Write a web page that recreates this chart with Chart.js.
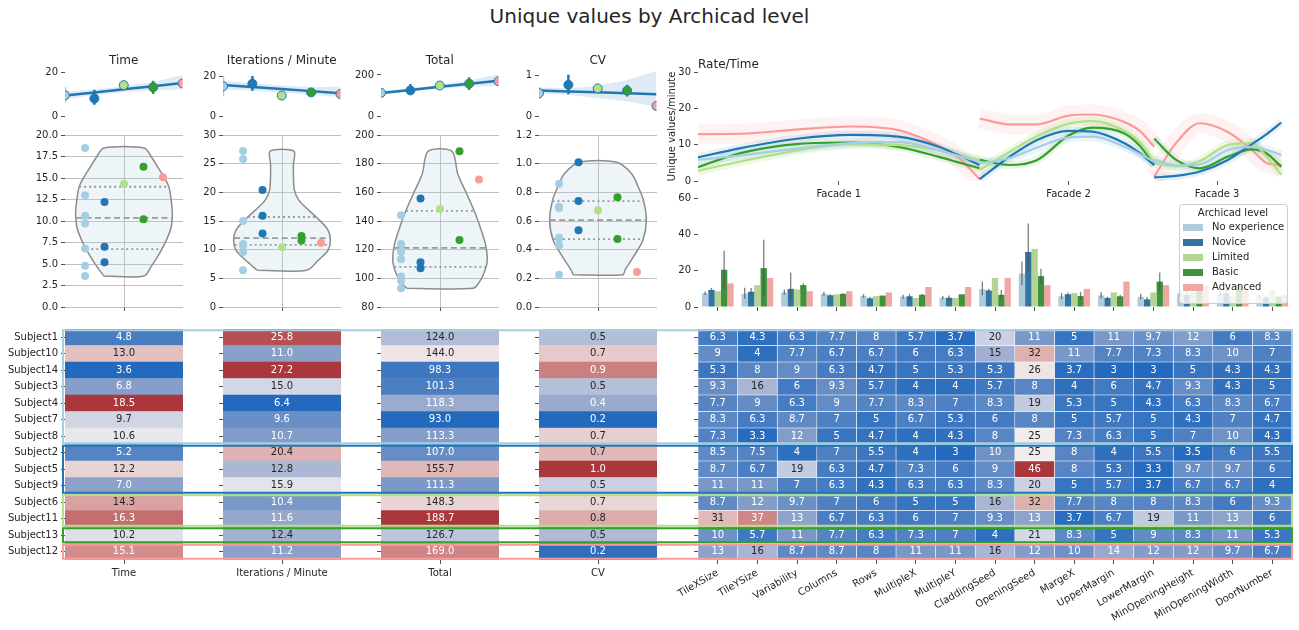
<!DOCTYPE html>
<html>
<head>
<meta charset="utf-8">
<title>Unique values by Archicad level</title>
<script src="https://cdn.jsdelivr.net/npm/chart.js@4.4.1/dist/chart.umd.min.js"></script>
<style>
  html, body { margin: 0; padding: 0; background: #fff; }
  body { width: 1299px; height: 630px; position: relative; overflow: hidden; font-family: "DejaVu Sans", sans-serif; color: #262626; }
  canvas { position: absolute; }
  #suptitle { position: absolute; left: 0; top: 4px; width: 1299px; text-align: center; font-size: 20px; line-height: 24px; }
</style>
</head>
<body>
<div id="suptitle">Unique values by Archicad level</div>
<script>
// ---- data -----------------------------------------------------------
const groups = ['No experience', 'Novice', 'Limited', 'Basic', 'Advanced'];
const groupColors = ['#a6cee3', '#1f78b4', '#b2df8a', '#33a02c', '#fb9a99'];
const barColors = ['#aecbdb', '#3275a1', '#b3d495', '#40913b', '#efa6a5'];

const subjects = ['Subject1', 'Subject10', 'Subject14', 'Subject3', 'Subject4', 'Subject7', 'Subject8',
  'Subject2', 'Subject5', 'Subject9', 'Subject6', 'Subject11', 'Subject13', 'Subject12'];
const boxGroup = [0, 0, 0, 0, 0, 0, 0, 1, 1, 1, 2, 2, 3, 4];  // outline boxes in the heatmaps
const dotGroup = [0, 0, 0, 0, 0, 0, 0, 1, 1, 1, 2, 3, 3, 4];  // dot colours in the violins

const metrics = ['Time', 'Iterations / Minute', 'Total', 'CV'];
const timeVals = [4.8, 13.0, 3.6, 6.8, 18.5, 9.7, 10.6, 5.2, 12.2, 7.0, 14.3, 16.3, 10.2, 15.1];
const iterVals = [25.8, 11.0, 27.2, 15.0, 6.4, 9.6, 10.7, 20.4, 12.8, 15.9, 10.4, 11.6, 12.4, 11.2];
const totalVals = [124.0, 144.0, 98.3, 101.3, 118.3, 93.0, 113.3, 107.0, 155.7, 111.3, 148.3, 188.7, 126.7, 169.0];
const cvVals = [0.48, 0.70, 0.86, 0.485, 0.43, 0.225, 0.69, 0.74, 1.01, 0.535, 0.675, 0.765, 0.475, 0.245];

// regression strip on top (one value per level)
const timeMeans = [9.6, 8.1, 14.3, 13.3, 15.1];
const timeErrLo = [6.3, 5.2, null, 10.2, null];
const timeErrHi = [13.4, 12.2, null, 16.3, null];
const timeFit = [9.5, 10.9, 12.4, 13.8, 15.3];
const timeBandLo = [7.8, 9.6, 11.0, 12.0, 12.3];
const timeBandHi = [11.4, 12.3, 13.8, 15.8, 19.0];

const iterMeans = [15.1, 16.4, 10.4, 12.0, 11.2];
const iterErrLo = [10.1, 12.8, null, 11.6, null];
const iterErrHi = [20.4, 20.4, null, 12.4, null];
const iterFit = [15.8, 14.75, 13.7, 12.65, 11.6];
const iterBandLo = [13.6, 12.9, 11.9, 10.8, 9.6];
const iterBandHi = [18.0, 16.6, 15.5, 14.8, 14.9];

const totalMeans = [113.2, 124.7, 148.3, 157.7, 169.0];
const totalErrLo = [101, 107, null, 126.7, null];
const totalErrHi = [127.8, 155.7, null, 188.7, null];
const totalFit = [112, 127, 142, 157, 172];
const totalBandLo = [104, 119, 133, 143, 146];
const totalBandHi = [121, 136, 152, 173, 203];

const cvMeans = [0.557, 0.762, 0.675, 0.62, 0.245];
const cvErrLo = [0.42, 0.535, null, 0.475, null];
const cvErrHi = [0.71, 1.01, null, 0.765, null];
const cvFit = [0.625, 0.601, 0.578, 0.554, 0.53];
const cvBandLo = [0.55, 0.52, 0.44, 0.36, 0.22];
const cvBandHi = [0.70, 0.68, 0.74, 0.88, 1.10];

// violin outlines: level and half width
const timeViolinY = [3.6, 4.7, 6.2, 7.8, 9.3, 10.9, 12.4, 14.0, 15.1, 16.3, 17.5, 18.5];
const timeViolinW = [0.17, 0.23, 0.30, 0.36, 0.40, 0.41, 0.40, 0.38, 0.34, 0.285, 0.23, 0.17];
const iterViolinY = [6.4, 8.2, 9.9, 11.6, 13.4, 15.1, 16.9, 18.6, 20.4, 23.0, 25.0, 27.2];
const iterViolinW = [0.21, 0.31, 0.39, 0.41, 0.39, 0.32, 0.226, 0.144, 0.105, 0.097, 0.097, 0.10];
const totalViolinY = [93, 97, 103, 112, 122, 131, 145, 159, 173, 188.7];
const totalViolinW = [0.28, 0.33, 0.37, 0.40, 0.39, 0.36, 0.30, 0.226, 0.15, 0.10];
const cvViolinY = [0.225, 0.26, 0.35, 0.466, 0.606, 0.746, 0.84, 0.93, 1.01];
const cvViolinW = [0.21, 0.23, 0.30, 0.38, 0.41, 0.385, 0.34, 0.285, 0.16];
const timeQuart = [6.72, 10.37, 13.98];
const iterQuart = [10.83, 12.0, 15.7];
const totalQuart = [108, 121.3, 147.1];
const cvQuart = [0.473, 0.606, 0.739];

// Rate/Time curves, one x list per facade
const facadeLabels = ['Facade 1', 'Facade 2', 'Facade 3'];
const facadeTicks = [23.7, 62.4, 87.4];
const rateX1 = [0, 7, 17, 25.7, 33.7, 40.4, 43.7, 47.4];
const rateX2 = [47.4, 52.4, 57.1, 62.4, 66.4, 71.8, 74.5, 76.8];
const rateX3 = [76.8, 80.5, 84.5, 89.2, 93.2, 95.8, 98.2];
const rateNoExp = [[5.8, 7.0, 9.0, 10.4, 10.7, 8.5, 7.0, 5.3], [4.9, 6.3, 9.2, 12.0, 12.2, 9.4, 7.3, 5.3], [5.8, 4.3, 4.6, 8.5, 9.4, 8.5, 7.2]];
const rateNovice = [[6.5, 9.0, 11.7, 12.7, 12.2, 9.5, 7.2, 4.4], [0.5, 6.6, 11.3, 13.8, 13.6, 10.4, 7.5, 4.4], [1.0, 1.4, 2.6, 5.8, 10.1, 13.0, 16.1]];
const rateLimited = [[2.8, 5.3, 8.5, 10.1, 9.9, 8.5, 7.3, 5.8], [3.0, 8.0, 12.4, 15.8, 16.5, 13.8, 10.4, 5.3], [4.9, 4.0, 5.5, 9.9, 10.4, 6.5, 1.7]];
const rateBasic = [[3.8, 7.6, 10.2, 10.6, 9.4, 6.7, 5.2, 3.5], [5.8, 4.4, 5.8, 12.5, 14.7, 13.1, 9.5, 4.4], [11.7, 5.8, 3.5, 6.7, 8.7, 7.5, 3.9]];
const rateAdvanced = [[12.9, 13.0, 14.2, 15.0, 14.0, 9.8, 6.7, 0.5], [17.2, 15.6, 15.6, 18.0, 18.3, 16.2, 13.6, 9.4], [1.2, 10.5, 15.9, 13.5, 8.6, 4.9, 4.4]];

// parameter bars
const params = ['TileXSize', 'TileYSize', 'Variability', 'Columns', 'Rows', 'MultipleX', 'MultipleY', 'CladdingSeed',
  'OpeningSeed', 'MargeX', 'UpperMargin', 'LowerMargin', 'MinOpeningHeight', 'MinOpeningWidth', 'DoorNumber'];
const barNoExp = [7.6, 7.3, 8.0, 7.3, 6.1, 5.7, 5.1, 9.8, 18.4, 5.9, 6.4, 5.6, 7.5, 7.1, 5.8];
const barNovice = [9.4, 8.4, 10.0, 6.5, 4.8, 5.9, 5.1, 9.1, 30.3, 7.0, 5.0, 4.2, 6.6, 7.5, 5.2];
const barLimited = [8.7, 12, 9.7, 7, 6, 5, 5, 16, 32, 7.7, 8, 8, 8.3, 6, 9.3];
const barBasic = [20.5, 21.4, 12.0, 7.2, 6.3, 6.7, 7.0, 6.7, 17.0, 6.0, 5.9, 14.0, 9.7, 12.0, 5.7];
const barAdvanced = [13, 16, 8.7, 8.7, 8, 11, 11, 16, 12, 10, 14, 12, 12, 9.7, 6.7];
const errNoExpLo = [6.6, 4.6, 6.7, 6.2, 5.1, 4.6, 4.3, 6.5, 12.0, 4.4, 4.8, 4.2, 5.7, 5.5, 4.8];
const errNoExpHi = [8.6, 10.6, 9.6, 8.4, 7.1, 6.8, 6.0, 14.0, 25.0, 7.7, 8.2, 7.3, 9.4, 8.7, 6.9];
const errNoviceLo = [8.5, 6.9, 4.5, 6.3, 4.3, 4.0, 3.0, 8.3, 20.0, 5.0, 4.0, 3.3, 3.5, 6.0, 4.0];
const errNoviceHi = [10.5, 10.5, 19.0, 7.0, 5.5, 7.3, 6.3, 10.0, 46.0, 8.0, 5.7, 5.5, 9.7, 9.7, 6.0];
const errBasicLo = [10, 5.7, 11, 6.7, 6.3, 6.0, 7.0, 4.0, 13, 3.7, 5.0, 9.0, 8.3, 11, 5.3];
const errBasicHi = [31, 37, 13, 7.7, 6.3, 7.3, 7.0, 9.3, 21, 8.3, 6.7, 19, 11, 13, 6.0];

// parameter heatmap, one row per subject (same order as subjects)
const paramTable = [
  [6.3, 4.3, 6.3, 7.7, 8, 5.7, 3.7, 20, 11, 5, 11, 9.7, 12, 6, 8.3],
  [9, 4, 7.7, 6.7, 6.7, 6, 6.3, 15, 32, 11, 7.7, 7.3, 8.3, 10, 7],
  [5.3, 8, 9, 6.3, 4.7, 5, 5.3, 5.3, 26, 3.7, 3, 3, 5, 4.3, 4.3],
  [9.3, 16, 6, 9.3, 5.7, 4, 4, 5.7, 8, 4, 6, 4.7, 9.3, 4.3, 5],
  [7.7, 9, 6.3, 9, 7.7, 8.3, 7, 8.3, 19, 5.3, 5, 4.3, 6.3, 8.3, 6.7],
  [8.3, 6.3, 8.7, 7, 5, 6.7, 5.3, 6, 8, 5, 5.7, 5, 4.3, 7, 4.7],
  [7.3, 3.3, 12, 5, 4.7, 4, 4.3, 8, 25, 7.3, 6.3, 5, 7, 10, 4.3],
  [8.5, 7.5, 4, 7, 5.5, 4, 3, 10, 25, 8, 4, 5.5, 3.5, 6, 5.5],
  [8.7, 6.7, 19, 6.3, 4.7, 7.3, 6, 9, 46, 8, 5.3, 3.3, 9.7, 9.7, 6],
  [11, 11, 7, 6.3, 4.3, 6.3, 6.3, 8.3, 20, 5, 5.7, 3.7, 6.7, 6.7, 4],
  [8.7, 12, 9.7, 7, 6, 5, 5, 16, 32, 7.7, 8, 8, 8.3, 6, 9.3],
  [31, 37, 13, 6.7, 6.3, 6, 7, 9.3, 13, 3.7, 6.7, 19, 11, 13, 6],
  [10, 5.7, 11, 7.7, 6.3, 7.3, 7, 4, 21, 8.3, 5, 9, 8.3, 11, 5.3],
  [13, 16, 8.7, 8.7, 8, 11, 11, 16, 12, 10, 14, 12, 12, 9.7, 6.7]
];

// ---- look -----------------------------------------------------------
Chart.defaults.font.family = '"DejaVu Sans", sans-serif';
Chart.defaults.font.size = 10;
Chart.defaults.color = '#262626';
Chart.defaults.animation = false;
Chart.defaults.events = [];
Chart.defaults.plugins.legend.display = false;
Chart.defaults.plugins.tooltip.enabled = false;

const colLeft = [65, 223, 381, 539];
const dodge = [-0.33, -0.165, 0, 0.165, 0.33];
const ticksOnly = { drawOnChartArea: false, tickLength: 4, tickWidth: 0.8, tickColor: '#262626' };
const gridLines = { color: '#b0b0b0', lineWidth: 0.8, tickLength: 4, tickWidth: 0.8, tickColor: '#262626' };
const noBorder = { display: false };
const vlagStops = [[0, [35, 105, 189]], [0.25, [150, 167, 203]], [0.5, [242, 240, 242]], [0.75, [213, 150, 149]], [1, [169, 55, 59]]];

function vlag(t) {
  t = Math.max(0, Math.min(1, t));
  for (let i = 1; i < vlagStops.length; i++) {
    if (t <= vlagStops[i][0]) {
      const [t0, c0] = vlagStops[i - 1], [t1, c1] = vlagStops[i];
      const f = (t - t0) / (t1 - t0);
      return c0.map((c, j) => Math.round(c + f * (c1[j] - c)));
    }
  }
  return vlagStops[vlagStops.length - 1][1];
}
const css = rgb => 'rgb(' + rgb.join(',') + ')';
function lum(rgb) {
  const c = rgb.map(v => { v /= 255; return v <= 0.03928 ? v / 12.92 : Math.pow((v + 0.055) / 1.055, 2.4); });
  return 0.2126 * c[0] + 0.7152 * c[1] + 0.0722 * c[2];
}
const fmt2 = v => v >= 10 ? String(Math.round(v)) : String(Math.round(v * 10) / 10);

function makeCanvas(left, top, w, h) {
  const c = document.createElement('canvas');
  c.width = w; c.height = h;
  c.style.left = left + 'px'; c.style.top = top + 'px';
  c.style.width = w + 'px'; c.style.height = h + 'px';
  document.body.appendChild(c);
  return c;
}

// ---- plugins ---------------------------------------------------------
const heatText = {
  id: 'heatText',
  afterDatasetsDraw(chart) {
    const ctx = chart.ctx;
    ctx.save();
    ctx.font = '10px "DejaVu Sans", sans-serif';
    ctx.textAlign = 'center';
    ctx.textBaseline = 'middle';
    chart.data.datasets.forEach((ds, di) => {
      chart.getDatasetMeta(di).data.forEach((el, i) => {
        ctx.fillStyle = lum(ds.cellRgb[i]) > 0.408 ? '#262626' : '#ffffff';
        ctx.fillText(ds.cellText[i], (el.x + el.base) / 2, el.y);
      });
    });
    ctx.restore();
  }
};

const groupBoxes = {
  id: 'groupBoxes',
  afterDraw(chart, args, opts) {
    const y = chart.scales.y, a = chart.chartArea, ctx = chart.ctx;
    const half = (y.getPixelForValue(1) - y.getPixelForValue(0)) / 2;
    const x0 = a.left - opts.padL, x1 = a.right + opts.padR;
    ctx.save();
    ctx.lineWidth = 2;
    let start = 0;
    for (let i = 1; i <= boxGroup.length; i++) {
      if (i === boxGroup.length || boxGroup[i] !== boxGroup[start]) {
        const top = y.getPixelForValue(start) - half + 1.2;
        const bot = y.getPixelForValue(i - 1) + half - 1.2;
        ctx.strokeStyle = groupColors[boxGroup[start]];
        ctx.beginPath();
        ctx.moveTo(x0, top); ctx.lineTo(x1, top);
        ctx.moveTo(x0, bot); ctx.lineTo(x1, bot);
        if (opts.leftEdge) { ctx.moveTo(x0, top - 1); ctx.lineTo(x0, bot + 1); }
        if (opts.rightEdge) { ctx.moveTo(x1, top - 1); ctx.lineTo(x1, bot + 1); }
        ctx.stroke();
        start = i;
      }
    }
    ctx.restore();
  }
};

const barErrors = {
  id: 'barErrors',
  afterDatasetsDraw(chart) {
    const ctx = chart.ctx, y = chart.scales.y;
    ctx.save();
    ctx.strokeStyle = 'rgba(80,80,80,0.75)';
    ctx.lineWidth = 1.3;
    chart.data.datasets.forEach((ds, di) => {
      if (!ds.errLo) return;
      chart.getDatasetMeta(di).data.forEach((el, i) => {
        ctx.beginPath();
        ctx.moveTo(el.x, y.getPixelForValue(ds.errLo[i]));
        ctx.lineTo(el.x, y.getPixelForValue(ds.errHi[i]));
        ctx.stroke();
      });
    });
    ctx.restore();
  }
};

const barLegend = {
  id: 'barLegend',
  afterDraw(chart) {
    const ctx = chart.ctx, a = chart.chartArea;
    const w = 108, h = 99, x = a.right - 5 - w, y = a.top + 6;
    ctx.save();
    ctx.fillStyle = 'rgba(255,255,255,0.8)';
    ctx.strokeStyle = '#cccccc';
    ctx.lineWidth = 1;
    ctx.beginPath();
    ctx.roundRect(x + 0.5, y + 0.5, w, h, 3);
    ctx.fill();
    ctx.stroke();
    ctx.font = '10px "DejaVu Sans", sans-serif';
    ctx.textBaseline = 'middle';
    ctx.fillStyle = '#262626';
    ctx.textAlign = 'center';
    ctx.fillText('Archicad level', x + w / 2, y + 9.5);
    ctx.textAlign = 'left';
    groups.forEach((g, i) => {
      const cy = y + 23.5 + i * 15;
      ctx.fillStyle = barColors[i];
      ctx.fillRect(x + 4, cy - 3.5, 20, 7);
      ctx.fillStyle = '#262626';
      ctx.fillText(g, x + 33, cy);
    });
    ctx.restore();
  }
};

// ---- top strip: level means with a fitted line -----------------------
function regPlot(k, means, errLo, errHi, fit, bandLo, bandHi, yMax, yTick) {
  const canvas = makeCanvas(colLeft[k] - 40, 45, 163, 80);
  const xs = means.map((m, i) => i);
  const datasets = [
    { data: xs.map(i => ({ x: i, y: bandLo[i] })), borderWidth: 0, pointRadius: 0, fill: false, order: 4 },
    { data: xs.map(i => ({ x: i, y: bandHi[i] })), borderWidth: 0, pointRadius: 0, fill: '-1', backgroundColor: 'rgba(31,119,180,0.15)', order: 4 },
    { data: xs.map(i => ({ x: i, y: fit[i] })), borderColor: '#1f77b4', borderWidth: 2.5, pointRadius: 0, fill: false, order: 3 }
  ];
  xs.forEach(i => {
    if (errLo[i] !== null) {
      datasets.push({ data: [{ x: i, y: errLo[i] }, { x: i, y: errHi[i] }], borderColor: groupColors[i], borderWidth: 2.5, pointRadius: 0, fill: false, order: 2 });
    }
  });
  datasets.push({ data: xs.map(i => ({ x: i, y: means[i] })), showLine: false, pointRadius: 4.5,
    pointBackgroundColor: groupColors, pointBorderColor: '#1f77b4', pointBorderWidth: 1, order: 1 });
  new Chart(canvas, {
    type: 'line',
    data: { datasets },
    options: {
      responsive: false,
      layout: { padding: { left: 0, right: 5, top: 0, bottom: 7 } },
      plugins: {
        title: { display: true, text: metrics[k], fullSize: false, color: '#262626',
          font: { size: 12, weight: 'normal' }, padding: { top: 8.5, bottom: 1.5 } }
      },
      scales: {
        x: { type: 'linear', min: 0, max: 4, display: false },
        y: { min: 0, max: yMax, border: noBorder, grid: ticksOnly,
          afterBuildTicks: s => { s.ticks = [{ value: 0 }, { value: yTick }]; },
          afterFit: s => { s.width = 40; } }
      }
    }
  });
}

// ---- violins ----------------------------------------------------------
function violinPlot(k, vals, vy, vw, quart, yMin, yMax, step, decimals) {
  const canvas = makeCanvas(colLeft[k] - 40, 125, 163, 195);
  const outline = vy.map((y, i) => ({ x: -vw[i], y }));
  for (let i = vy.length - 1; i >= 0; i--) outline.push({ x: vw[i], y: vy[i] });
  outline.push(outline[0]);
  const halfAt = v => {
    for (let i = 1; i < vy.length; i++) {
      if (v <= vy[i]) { const t = (v - vy[i - 1]) / (vy[i] - vy[i - 1]); return vw[i - 1] + t * (vw[i] - vw[i - 1]); }
    }
    return vw[vw.length - 1];
  };
  const datasets = [{ data: outline, borderColor: '#8c8c8c', borderWidth: 1.5, backgroundColor: 'rgba(166,206,227,0.2)',
    fill: 'shape', pointRadius: 0, tension: 0.3, order: 3 }];
  quart.forEach((q, j) => {
    const w = halfAt(q);
    datasets.push({ data: [{ x: -w, y: q }, { x: w, y: q }], borderColor: '#9a9a9a', borderWidth: 1.8,
      borderDash: j === 1 ? [6, 3.5] : [2, 3], pointRadius: 0, fill: false, order: 2 });
  });
  datasets.push({ data: vals.map((v, i) => ({ x: dodge[dotGroup[i]], y: v })), showLine: false, pointRadius: 4,
    pointBackgroundColor: vals.map((v, i) => groupColors[dotGroup[i]]), pointBorderWidth: 0, order: 1 });
  new Chart(canvas, {
    type: 'line',
    data: { datasets },
    options: {
      responsive: false,
      layout: { padding: { left: 0, right: 5, top: 10, bottom: 5 } },
      scales: {
        x: { type: 'linear', min: -0.5, max: 0.5, border: noBorder, grid: gridLines,
          afterBuildTicks: s => { s.ticks = [{ value: 0 }]; }, ticks: { callback: () => '' },
          afterFit: s => { s.height = 8; } },
        y: { min: yMin, max: yMax, border: noBorder, grid: gridLines,
          ticks: { stepSize: step, callback: v => Number(v).toFixed(decimals) },
          afterFit: s => { s.width = 40; } }
      }
    }
  });
}

// ---- heatmap of the four measures, one column per chart ----------------
function heatColumn(k, vals) {
  const first = k === 0;
  const yW = first ? 65 : 20;
  const padR = k === 3 ? 21 : 20;
  const canvas = makeCanvas(colLeft[k] - yW, 320, yW + 118 + padR, 310);
  const lo = Math.min(...vals), hi = Math.max(...vals);
  const rgb = vals.map(v => vlag((v - lo) / (hi - lo)));
  new Chart(canvas, {
    type: 'bar',
    data: { labels: subjects, datasets: [{ data: vals.map(() => 1), backgroundColor: rgb.map(css), cellRgb: rgb,
      cellText: vals.map(v => v.toFixed(1)), barPercentage: 1, categoryPercentage: 1, borderWidth: 0 }] },
    options: {
      indexAxis: 'y',
      responsive: false,
      layout: { padding: { left: 0, right: padR, top: 6, bottom: 0 } },
      plugins: { groupBoxes: { padL: first ? 2 : 20, padR: padR, leftEdge: first, rightEdge: false } },
      scales: {
        x: { type: 'linear', min: 0, max: 1, border: noBorder, grid: ticksOnly,
          afterBuildTicks: s => { s.ticks = [{ value: 0.5 }]; },
          ticks: { callback: () => metrics[k], maxRotation: 0 },
          afterFit: s => { s.height = 70; } },
        y: { border: noBorder, grid: Object.assign({}, ticksOnly, { offset: false }),
          ticks: { autoSkip: false, callback: first ? (v, i) => subjects[i] : () => '' },
          afterFit: s => { s.width = yW; } }
      }
    },
    plugins: [heatText, groupBoxes]
  });
}

regPlot(0, timeMeans, timeErrLo, timeErrHi, timeFit, timeBandLo, timeBandHi, 21.6, 20);
regPlot(1, iterMeans, iterErrLo, iterErrHi, iterFit, iterBandLo, iterBandHi, 23.7, 20);
regPlot(2, totalMeans, totalErrLo, totalErrHi, totalFit, totalBandLo, totalBandHi, 227, 200);
regPlot(3, cvMeans, cvErrLo, cvErrHi, cvFit, cvBandLo, cvBandHi, 1.14, 1);

violinPlot(0, timeVals, timeViolinY, timeViolinW, timeQuart, 0, 20, 2.5, 1);
violinPlot(1, iterVals, iterViolinY, iterViolinW, iterQuart, 0, 30, 5, 0);
violinPlot(2, totalVals, totalViolinY, totalViolinW, totalQuart, 80, 200, 20, 0);
violinPlot(3, cvVals, cvViolinY, cvViolinW, cvQuart, 0, 1.2, 0.2, 1);

heatColumn(0, timeVals);
heatColumn(1, iterVals);
heatColumn(2, totalVals);
heatColumn(3, cvVals);

// ---- Rate/Time ----------------------------------------------------------
const rateSeries = [rateNoExp, rateNovice, rateLimited, rateBasic, rateAdvanced];
const rateXs = [rateX1, rateX2, rateX3];
const bandWidths = [9, 8, 9, 8, 20];
const bandColors = ['rgba(166,206,227,0.22)', 'rgba(31,120,180,0.1)', 'rgba(178,223,138,0.22)', 'rgba(51,160,44,0.1)', 'rgba(251,154,153,0.13)'];
function ratePoints(series) {
  const pts = [];
  series.forEach((ys, f) => {
    if (f > 0) pts.push({ x: rateXs[f][0], y: null });
    ys.forEach((y, i) => pts.push({ x: rateXs[f][i], y }));
  });
  return pts;
}
const rateDatasets = [];
rateSeries.forEach((s, gi) => {
  rateDatasets.push({ data: ratePoints(s), borderColor: groupColors[gi], borderWidth: 2.2, pointRadius: 0,
    cubicInterpolationMode: 'monotone', fill: false, order: 1 });
});
rateSeries.forEach((s, gi) => {
  rateDatasets.push({ data: ratePoints(s), borderColor: bandColors[gi], borderWidth: bandWidths[gi], pointRadius: 0,
    cubicInterpolationMode: 'monotone', fill: false, order: 2 });
});
new Chart(makeCanvas(660, 50, 639, 150), {
  type: 'line',
  data: { datasets: rateDatasets },
  options: {
    responsive: false,
    layout: { padding: { left: 6, right: 7, top: 0, bottom: 0 } },
    plugins: {
      title: { display: true, text: 'Rate/Time', align: 'start', fullSize: false, color: '#262626',
        font: { size: 12, weight: 'normal' }, padding: { top: 7.6, bottom: 0 } }
    },
    scales: {
      x: { type: 'linear', min: 0, max: 100, border: noBorder, grid: ticksOnly,
        afterBuildTicks: s => { s.ticks = facadeTicks.map(v => ({ value: v })); },
        ticks: { callback: (v, i) => facadeLabels[i], maxRotation: 0, autoSkip: false },
        afterFit: s => { s.height = 19; } },
      y: { min: 0, max: 30, border: noBorder, grid: ticksOnly, ticks: { stepSize: 10 },
        title: { display: true, text: 'Unique values/minute', padding: 0, font: { size: 10 } },
        afterFit: s => { s.width = 32; } }
    }
  }
});

// ---- parameter bars ---------------------------------------------------------
const barMeans = [barNoExp, barNovice, barLimited, barBasic, barAdvanced];
const barLo = [errNoExpLo, errNoviceLo, null, errBasicLo, null];
const barHi = [errNoExpHi, errNoviceHi, null, errBasicHi, null];
new Chart(makeCanvas(660, 186, 639, 134), {
  type: 'bar',
  data: {
    labels: params,
    datasets: groups.map((g, gi) => ({ label: g, data: barMeans[gi], backgroundColor: barColors[gi],
      errLo: barLo[gi], errHi: barHi[gi], categoryPercentage: 0.8, barPercentage: 1 }))
  },
  options: {
    responsive: false,
    layout: { padding: { left: 6, right: 7, top: 12, bottom: 5 } },
    scales: {
      x: { border: noBorder, grid: Object.assign({}, ticksOnly, { offset: false }), ticks: { callback: () => '' },
        afterFit: s => { s.height = 8; } },
      y: { min: 0, max: 60, border: noBorder, grid: ticksOnly, ticks: { stepSize: 20 },
        afterFit: s => { s.width = 32; } }
    }
  },
  plugins: [barErrors, barLegend]
});

// ---- parameter heatmap --------------------------------------------------------
const allParams = paramTable.flat();
const pMin = Math.min(...allParams), pMax = Math.max(...allParams);
new Chart(makeCanvas(640, 320, 659, 310), {
  type: 'bar',
  data: {
    labels: subjects,
    datasets: params.map((p, j) => {
      const rgb = paramTable.map(row => vlag((row[j] - pMin) / (pMax - pMin)));
      return { label: p, data: subjects.map(() => 1), backgroundColor: rgb.map(css), cellRgb: rgb,
        cellText: paramTable.map(row => fmt2(row[j])), borderColor: '#ffffff', borderWidth: 0.6,
        borderSkipped: false, barPercentage: 1, categoryPercentage: 1 };
    })
  },
  options: {
    indexAxis: 'y',
    responsive: false,
    layout: { padding: { left: 0, right: 7, top: 6, bottom: 0 } },
    plugins: { groupBoxes: { padL: 20, padR: 0, leftEdge: false, rightEdge: true } },
    scales: {
      x: { type: 'linear', stacked: true, min: 0, max: 15, border: noBorder, grid: ticksOnly,
        afterBuildTicks: s => { s.ticks = params.map((p, j) => ({ value: j + 0.5 })); },
        ticks: { autoSkip: false, minRotation: 30, maxRotation: 30, callback: (v, i) => params[i] },
        afterFit: s => { s.height = 70; } },
      y: { stacked: true, border: noBorder, grid: Object.assign({}, ticksOnly, { offset: false }),
        ticks: { autoSkip: false, callback: () => '' }, afterFit: s => { s.width = 58; } }
    }
  },
  plugins: [heatText, groupBoxes]
});
</script>
</body>
</html>
